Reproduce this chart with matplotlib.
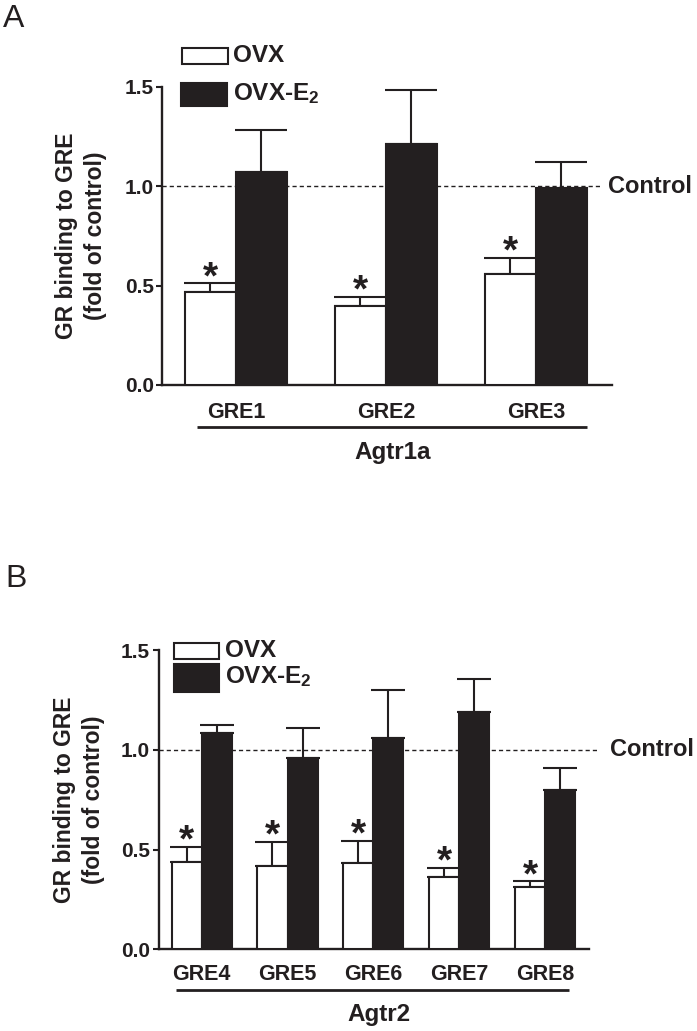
import matplotlib
matplotlib.use("Agg")
import matplotlib.pyplot as plt
import matplotlib.transforms as mtransforms
from matplotlib.patches import Rectangle
from matplotlib.ticker import FormatStrFormatter
import numpy as np

plt.rcParams['font.family'] = ['Liberation Sans', 'DejaVu Sans']
plt.rcParams['font.weight'] = 'bold'
plt.rcParams['axes.labelweight'] = 'bold'
plt.rcParams['mathtext.fontset'] = 'custom'
plt.rcParams['mathtext.rm'] = 'Liberation Sans:bold'
plt.rcParams['mathtext.bf'] = 'Liberation Sans:bold'
plt.rcParams['mathtext.it'] = 'Liberation Sans:bold'

# ---------------- data ----------------
genes_a = ['GRE1', 'GRE2', 'GRE3']
ovx_a = [0.47, 0.40, 0.56]
ovx_a_err = [0.042, 0.044, 0.079]
e2_a = [1.07, 1.215, 0.99]
e2_a_err = [0.215, 0.27, 0.135]
group_a = 'Agtr1a'

genes_b = ['GRE4', 'GRE5', 'GRE6', 'GRE7', 'GRE8']
ovx_b = [0.44, 0.415, 0.435, 0.36, 0.31]
ovx_b_err = [0.075, 0.125, 0.11, 0.047, 0.03]
e2_b = [1.085, 0.96, 1.058, 1.19, 0.798]
e2_b_err = [0.037, 0.147, 0.24, 0.164, 0.11]
group_b = 'Agtr2'

series_labels = ['OVX', r'OVX-E$_{\mathbf{2}}$']
control_label = 'Control'
ylabel = 'GR binding to GRE\n(fold of control)'
yticks = [0.0, 0.5, 1.0, 1.5]

INK = '#231f20'
W, H = 697, 1031
fig = plt.figure(figsize=(W / 100, H / 100), dpi=100)


def fx(px):
    return px / W


def fy(py):
    return 1 - py / H


def panel(rect_px, genes, ovx, ovx_err, e2, e2_err, group, cfg):
    l, t, r, b = rect_px
    ax = fig.add_axes([fx(l), fy(b), fx(r - l), (b - t) / H])
    x = np.arange(len(genes))
    w = cfg['w']
    zeros = np.zeros(len(genes))
    ax.bar(x - w / 2, ovx, width=w, color='white', edgecolor=INK,
           linewidth=1.5, zorder=3)
    ax.errorbar(x - w / 2, ovx, yerr=[zeros, ovx_err], fmt='none',
                ecolor=INK, elinewidth=1.5, capsize=cfg['cap'],
                capthick=1.5, zorder=2)
    ax.bar(x + w / 2, e2, width=w, color=INK, edgecolor=INK,
           linewidth=1.5, zorder=3)
    ax.errorbar(x + w / 2, e2, yerr=[zeros, e2_err], fmt='none',
                ecolor=INK, elinewidth=1.5, capsize=cfg['cap'],
                capthick=1.5, zorder=2)
    # significance stars
    for xi, v, e in zip(x, ovx, ovx_err):
        ax.annotate('*', xy=(xi - w / 2, v + e), xytext=(0, -3.5),
                    textcoords='offset points', ha='center',
                    va='baseline', fontsize=28, color=INK,
                    annotation_clip=False)
    ax.set_xlim(cfg['xlim'])
    ax.set_ylim(0, 1.5)
    # control line
    ax.plot([cfg['xlim'][0], cfg['dash_end']], [1.0, 1.0], color=INK,
            linestyle=(0, (3, 2.2)), linewidth=1.0, clip_on=False,
            zorder=1)
    ax.text(cfg['ctrl_x'], 1.0, control_label, ha='left', va='center',
            fontsize=17, color=INK, clip_on=False)
    for s in ['top', 'right']:
        ax.spines[s].set_visible(False)
    for s in ['left', 'bottom']:
        ax.spines[s].set_linewidth(1.7)
        ax.spines[s].set_color(INK)
    ax.set_yticks(yticks)
    ax.yaxis.set_major_formatter(FormatStrFormatter('%.1f'))
    ax.tick_params(axis='y', length=4.5, width=1.5, pad=1.5,
                   labelsize=15, colors=INK)
    ax.set_xticks(x)
    ax.set_xticklabels(genes)
    ax.tick_params(axis='x', length=0, pad=cfg['xpad'], labelsize=15.5,
                   colors=INK)
    ax.set_ylabel(ylabel, fontsize=16.5, fontweight='bold',
                  linespacing=1.35, color=INK)
    ax.yaxis.set_label_coords(cfg['ylab_x'], 0.5)
    # group underline and name
    trans = mtransforms.blended_transform_factory(ax.transData, ax.transAxes)
    ax.plot(cfg['line_x'], [cfg['line_y'], cfg['line_y']], color=INK,
            linewidth=2.0, transform=trans, clip_on=False,
            solid_capstyle='butt')
    ax.text(cfg['name_x'], cfg['name_y'], group, transform=trans,
            ha='center', va='center', fontsize=17.5, color=INK)
    return ax


ax_a = panel((162, 87, 612, 385), genes_a, ovx_a, ovx_a_err, e2_a, e2_a_err,
             group_a,
             dict(w=0.34, cap=19, xlim=(-0.493, 2.507), dash_end=2.44,
                  ctrl_x=2.48, xpad=12.5, ylab_x=-0.122,
                  line_x=[-0.262, 2.338], line_y=-0.140,
                  name_x=1.047, name_y=-0.228))

ax_b = panel((158.5, 650, 589.3, 949.3), genes_b, ovx_b, ovx_b_err, e2_b,
             e2_b_err, group_b,
             dict(w=0.35, cap=12.5, xlim=(-0.503, 4.516), dash_end=4.62,
                  ctrl_x=4.757, xpad=10.5, ylab_x=-0.124,
                  line_x=[-0.30, 4.28], line_y=-0.136,
                  name_x=2.066, name_y=-0.2195))


# legends (swatches + labels), drawn in figure pixel coordinates
def legend_px(entries):
    for (x0, y0, x1, y1, face, tx, ty, label) in entries:
        fig.patches.append(Rectangle((fx(x0), fy(y1)), fx(x1 - x0),
                                     (y1 - y0) / H, transform=fig.transFigure,
                                     facecolor=face, edgecolor=INK,
                                     linewidth=1.5))
        fig.text(fx(tx), fy(ty), label, ha='left', va='center',
                 fontsize=17.5, color=INK)


legend_px([
    (181.7, 48.3, 227.7, 64.3, 'white', 233, 56, series_labels[0]),
    (180.7, 83.3, 226.7, 106, INK, 233, 94, series_labels[1]),
    (174, 642.7, 219, 659, 'white', 225, 650.5, series_labels[0]),
    (174, 664, 219, 692, INK, 225, 676.5, series_labels[1]),
])

fig.text(fx(3), fy(4), 'A', ha='left', va='top', fontsize=23,
         fontweight='normal', color=INK)
fig.text(fx(5), fy(564), 'B', ha='left', va='top', fontsize=23,
         fontweight='normal', color=INK)

fig.savefig('out.png', dpi=100)
